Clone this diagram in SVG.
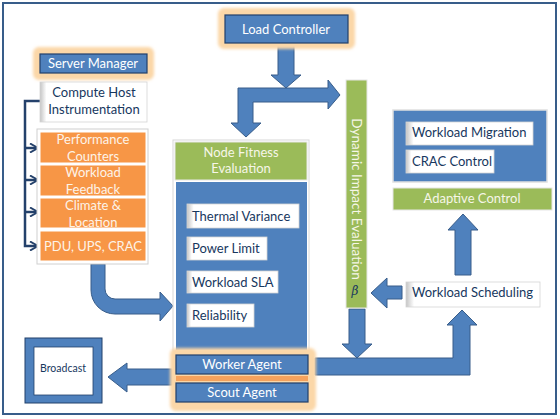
<svg xmlns="http://www.w3.org/2000/svg" width="560" height="419" viewBox="0 0 560 419">
<defs>
<style>
.t{font-family:Lato,"Open Sans","Liberation Sans",sans-serif;font-size:13px}
.w{fill:#ffffff}
.cr{fill:#fdf3e8}
.gt{fill:#f6f6e8}
.d{fill:#17375e}
.m{text-anchor:middle}
.blue{fill:#4f81bd;stroke:#22406a;stroke-width:1.2}
.bluef{fill:#4f81bd}
.green{fill:#9bbb59;stroke:#e6e6e6;stroke-width:1}
.orange{fill:#f79646;stroke:#ffffff;stroke-width:1}
.item{fill:url(#bev);stroke:#d4d4d4;stroke-width:0.8}
.glow{fill:#fbd7a8;stroke:#fbd7a8;stroke-width:4;filter:url(#blur)}
.arrow{fill:#4f81bd;stroke:#385d8a;stroke-width:1}
.conn{fill:none;stroke:#24416b;stroke-width:2.5}
</style>
<linearGradient id="bev" x1="0" y1="0" x2="1" y2="0">
<stop offset="0" stop-color="#c4c4c4"/>
<stop offset="0.06" stop-color="#ffffff"/>
<stop offset="1" stop-color="#ffffff"/>
</linearGradient>
<filter id="blur" x="-20%" y="-40%" width="140%" height="180%"><feGaussianBlur stdDeviation="1.6"/></filter>
<marker id="chev" viewBox="0 0 10 10" refX="9" refY="5" markerWidth="4" markerHeight="4" orient="auto" markerUnits="strokeWidth">
<polyline points="1,0.5 9,5 1,9.5" fill="none" stroke="#24416b" stroke-width="2"/>
</marker>
</defs>
<rect width="560" height="419" fill="#ffffff"/>
<rect x="3" y="3" width="553" height="411" fill="none" stroke="#385d8a" stroke-width="2"/>

<g id="connectors">
<path class="conn" d="M40,101 L25,101 L25,246 L38,246" marker-end="url(#chev)"/>
<path class="conn" d="M25,148 L38,148" marker-end="url(#chev)"/>
<path class="conn" d="M25,180 L38,180" marker-end="url(#chev)"/>
<path class="conn" d="M25,212 L38,212" marker-end="url(#chev)"/>
<path class="arrow" d="M278,42 L294,42 L294,75 L301,75 L286,88 L271,75 L278,75 Z"/>
<path class="arrow" d="M238,88 L328,88 L328,80 L340,95 L328,109 L328,102 L253,102 L253,123 L261,123 L246,137 L231,123 L238,123 Z"/>
<path class="arrow" d="M91,264 L91,290 A24,24 0 0 0 115,314 L160,314 L160,321 L173,306 L160,292 L160,299 L115,299 A10,10 0 0 1 105,289 L105,264 Z"/>
<path class="arrow" d="M349,309 L365,309 L365,344 L372,344 L357,358 L342,344 L349,344 Z"/>
<path class="arrow" d="M315,358 L453,358 L453,325 L447,325 L462,310 L477,325 L470,325 L470,375 L315,375 Z"/>
<path class="arrow" d="M402,286 L387,286 L387,278 L371,293 L387,308 L387,299 L402,299 Z"/>
<path class="arrow" d="M455,275 L455,230 L448,230 L463,214 L478,230 L471,230 L471,275 Z"/>
<path class="arrow" d="M172,369 L127,369 L127,363 L108,377 L127,392 L127,385 L172,385 Z"/>
</g>

<g id="load-controller">
<rect class="glow" x="220" y="10" width="133" height="37" rx="4"/>
<rect class="blue" x="225" y="15" width="123" height="28"/>
<text class="t w m" x="286" y="34">Load Controller</text>
</g>

<g id="server-manager">
<rect class="glow" x="35" y="49" width="117" height="29" rx="4"/>
<rect class="blue" x="40" y="54" width="107" height="19"/>
<text class="t w m" x="93" y="68">Server Manager</text>
</g>

<g id="compute-host">
<rect class="item" x="40" y="82" width="107" height="40"/>
<text class="t d m" x="94" y="97">Compute Host</text>
<text class="t d m" x="94" y="114">Instrumentation</text>
</g>

<g id="sensors">
<rect x="37" y="129" width="111" height="135" fill="#ffffff" stroke="#d0d0d0" stroke-width="1"/>
</g>
<g id="performance-counters">
<rect class="orange" x="40" y="132" width="106" height="31"/>
<text class="t cr m" x="93" y="144">Performance</text>
<text class="t cr m" x="93" y="161">Counters</text>
</g>
<g id="workload-feedback">
<rect class="orange" x="40" y="165" width="106" height="31"/>
<text class="t cr m" x="93" y="177">Workload</text>
<text class="t cr m" x="93" y="194">Feedback</text>
</g>
<g id="climate-location">
<rect class="orange" x="40" y="198" width="106" height="30"/>
<text class="t cr m" x="93" y="210">Climate &amp;</text>
<text class="t cr m" x="93" y="227">Location</text>
</g>
<g id="pdu-ups-crac">
<rect class="orange" x="40" y="231" width="106" height="30"/>
<text class="t cr m" x="93" y="251">PDU, UPS, CRAC</text>
</g>

<g id="node-fitness-evaluation">
<rect x="173" y="140" width="136" height="211" fill="none" stroke="#d8d8d8" stroke-width="1"/>
<rect class="green" x="175" y="142" width="132" height="38"/>
<text class="t gt m" x="241" y="157">Node Fitness</text>
<text class="t gt m" x="241" y="173">Evaluation</text>
<rect class="bluef" x="176" y="182" width="131" height="168"/>
</g>
<g id="thermal-variance">
<rect class="item" x="187" y="204" width="112" height="24"/>
<text class="t d" x="192" y="221">Thermal Variance</text>
</g>
<g id="power-limit">
<rect class="item" x="187" y="237" width="80" height="23"/>
<text class="t d" x="192" y="253">Power Limit</text>
</g>
<g id="workload-sla">
<rect class="item" x="187" y="271" width="91" height="22"/>
<text class="t d" x="192" y="287">Workload SLA</text>
</g>
<g id="reliability">
<rect class="item" x="187" y="304" width="67" height="23"/>
<text class="t d" x="192" y="320">Reliability</text>
</g>

<g id="agents">
<rect class="glow" x="172" y="350" width="142" height="59" rx="4"/>
<rect x="176" y="376" width="132" height="5" fill="#f5a25d"/>
</g>
<g id="worker-agent">
<rect class="blue" x="176" y="355" width="132" height="19"/>
<text class="t w m" x="242" y="369">Worker Agent</text>
</g>
<g id="scout-agent">
<rect class="blue" x="176" y="383" width="132" height="19"/>
<text class="t w m" x="242" y="397">Scout Agent</text>
</g>

<g id="broadcast">
<rect x="25" y="338" width="77" height="65" fill="#4f81bd" stroke="#22406a" stroke-width="1"/>
<rect x="34" y="347" width="59" height="48" fill="#ffffff" stroke="#22406a" stroke-width="0.8"/>
<text class="t d m" x="63" y="372" style="font-size:10.5px">Broadcast</text>
</g>

<g id="dynamic-impact-evaluation">
<rect class="green" x="346" y="80" width="21" height="228"/>
<text class="t gt m" transform="translate(351.5,199) rotate(90)" style="font-size:13.5px">Dynamic Impact Evaluation</text>
<text x="355" y="295" class="d m" style="font-family:'DejaVu Serif','Liberation Serif',serif;font-style:italic;font-size:12px">β</text>
</g>

<g id="actuators">
<rect x="393" y="110" width="154" height="72" fill="#4f81bd" stroke="#e0e0e0" stroke-width="1.5"/>
</g>
<g id="workload-migration">
<rect class="item" x="406" y="122" width="127" height="23"/>
<text class="t d" x="412" y="137">Workload Migration</text>
</g>
<g id="crac-control">
<rect class="item" x="406" y="150" width="88" height="23"/>
<text class="t d" x="412" y="166">CRAC Control</text>
</g>

<g id="adaptive-control">
<rect class="green" x="393" y="188" width="159" height="22"/>
<text class="t gt m" x="472" y="203">Adaptive Control</text>
</g>

<g id="workload-scheduling">
<rect class="item" x="406" y="282" width="134" height="25"/>
<text class="t d" x="412" y="297">Workload Scheduling</text>
</g>
</svg>
